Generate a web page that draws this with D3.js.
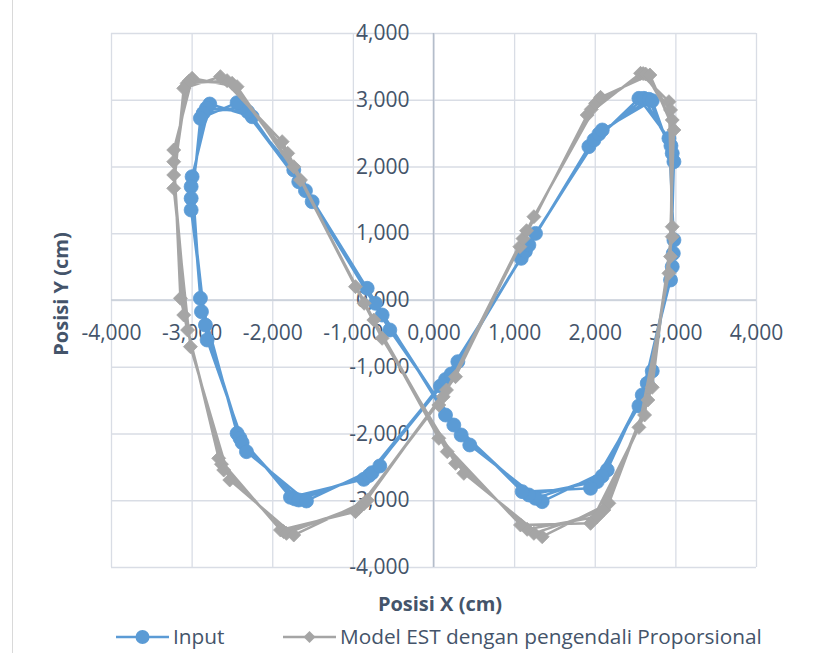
<!DOCTYPE html>
<html>
<head>
<meta charset="utf-8">
<script src="https://cdn.jsdelivr.net/npm/d3@7"></script>
<style>
  body { margin: 0; background: #fff; }
  text { font-family: "Open Sans", sans-serif; fill: #44546a; }
</style>
</head>
<body>
<svg id="chart" width="816" height="653"></svg>
<script>
// Tick values (labels use a decimal comma, e.g. 4,000)
const xTicks = [-4, -3, -2, -1, 0, 1, 2, 3, 4];
const yTicks = [-4, -3, -2, -1, 0, 1, 2, 3, 4];

// Input series, four laps round the figure eight
const inputX = [
  0.087, 1.088, 1.927, 2.548, 2.920, 2.982, 2.713, 2.155, 1.348, 0.450, -0.542, -1.505, -2.249, -2.775, -2.994, -2.891, -2.436, -1.774, -0.865,
  0.150, 1.140, 1.990, 2.610, 2.945, 2.974, 2.651, 2.093, 1.265, 0.343, -0.637, -1.588, -2.304, -2.816, -3.006, -2.878, -2.400, -1.720, -0.800,
  0.219, 1.183, 2.051, 2.672, 2.961, 2.961, 2.589, 2.031, 1.183, 0.252, -0.720, -1.671, -2.374, -2.857, -3.006, -2.829, -2.374, -1.671, -0.761,
  0.302, 1.265, 2.093, 2.713, 2.982, 2.940, 2.548, 1.948, 1.100, 0.149, -0.823, -1.733, -2.436, -2.891, -3.006, -2.808, -2.320, -1.576, -0.666
];
const inputY = [
  -1.288, 0.624, 2.297, 3.021, 2.422, 0.899, -1.064, -2.547, -3.021, -2.172, -0.449, 1.473, 2.746, 2.936, 1.847, 0.025, -1.998, -2.956, -2.687,
  -1.190, 0.730, 2.397, 3.021, 2.310, 0.699, -1.248, -2.637, -2.971, -2.022, -0.225, 1.638, 2.821, 2.872, 1.698, -0.175, -2.070, -2.980, -2.630,
  -1.109, 0.824, 2.487, 3.007, 2.197, 0.499, -1.423, -2.721, -2.921, -1.873, -0.050, 1.772, 2.896, 2.797, 1.523, -0.375, -2.137, -2.996, -2.587,
  -0.924, 0.998, 2.547, 2.986, 2.072, 0.300, -1.588, -2.821, -2.871, -1.723, 0.175, 1.948, 2.956, 2.722, 1.348, -0.599, -2.272, -3.011, -2.487
];

// Model EST dengan pengendali Proporsional
const modelX = [
  0.066, 1.071, 1.906, 2.568, 2.920, 2.961, 2.713, 2.175, 1.348, 0.376, -0.637, -1.650, -2.436, -2.994, -3.222, -3.139, -2.664, -1.898, -0.968,
  0.120, 1.110, 1.957, 2.600, 2.940, 2.961, 2.659, 2.113, 1.245, 0.273, -0.740, -1.733, -2.498, -3.030, -3.222, -3.098, -2.630, -1.860, -0.920,
  0.161, 1.154, 2.010, 2.630, 2.961, 2.940, 2.618, 2.031, 1.162, 0.170, -0.860, -1.808, -2.560, -3.056, -3.222, -3.050, -2.602, -1.824, -0.865,
  0.273, 1.245, 2.072, 2.684, 2.982, 2.920, 2.548, 1.948, 1.079, 0.066, -0.968, -1.877, -2.643, -3.098, -3.222, -3.015, -2.527, -1.733, -0.820
];
const modelY = [
  -1.573, 0.799, 2.771, 3.396, 2.971, 1.098, -1.308, -3.046, -3.546, -2.597, -0.574, 1.798, 3.196, 3.321, 2.247, 0.025, -2.372, -3.446, -3.171,
  -1.450, 0.920, 2.856, 3.392, 2.847, 0.949, -1.498, -3.146, -3.496, -2.447, -0.300, 1.997, 3.246, 3.280, 2.072, -0.225, -2.460, -3.470, -3.110,
  -1.348, 1.038, 2.946, 3.386, 2.697, 0.650, -1.723, -3.246, -3.436, -2.272, -0.050, 2.197, 3.286, 3.246, 1.873, -0.450, -2.547, -3.496, -3.056,
  -1.149, 1.248, 3.036, 3.371, 2.547, 0.400, -1.908, -3.346, -3.371, -2.072, 0.200, 2.372, 3.346, 3.171, 1.673, -0.699, -2.697, -3.521, -3.000
];

const seriesNames = ["Input", "Model EST dengan pengendali Proporsional"];
const seriesColors = ["#5b9bd5", "#a5a5a5"];

let svg = d3.select("#chart");
let plotLeft = 111, plotRight = 756, plotTop = 33, plotBottom = 567;

let x = d3.scaleLinear().domain([-4, 4]).range([plotLeft, plotRight]);
let y = d3.scaleLinear().domain([-4, 4]).range([plotBottom, plotTop]);

// decimal comma and a plain hyphen for the minus sign
let idLocale = d3.formatLocale({decimal: ",", thousands: ".", grouping: [3], currency: ["", ""], minus: "-"});
let fmt = idLocale.format(".3f");

// chart area border
svg.append("rect")
    .attr("x", 12.5).attr("y", -2)
    .attr("width", 900).attr("height", 700)
    .attr("fill", "none").attr("stroke", "#d9d9d9");

// Gridlines
svg.append("g")
    .attr("transform", "translate(0," + plotBottom + ")")
    .call(d3.axisBottom(x).tickValues(xTicks).tickSize(-(plotBottom - plotTop)).tickFormat(""))
    .call(g => g.select(".domain").remove())
    .call(g => g.selectAll("line").attr("stroke", "#d9dde5").attr("stroke-width", 1.3));
svg.append("g")
    .attr("transform", "translate(" + plotLeft + ",0)")
    .call(d3.axisLeft(y).tickValues(yTicks).tickSize(-(plotRight - plotLeft)).tickFormat(""))
    .call(g => g.select(".domain").remove())
    .call(g => g.selectAll("line").attr("stroke", "#d9dde5").attr("stroke-width", 1.3));

// Axis lines through zero
svg.append("line")
    .attr("x1", x(0)).attr("x2", x(0)).attr("y1", plotTop).attr("y2", plotBottom)
    .attr("stroke", "#b4bdca").attr("stroke-width", 1.5);
svg.append("line")
    .attr("x1", plotLeft).attr("x2", plotRight).attr("y1", y(0)).attr("y2", y(0))
    .attr("stroke", "#c9cfd9").attr("stroke-width", 1.3);

// Tick labels
svg.append("g")
    .attr("transform", "translate(0," + y(0) + ")")
    .call(d3.axisBottom(x).tickValues(xTicks).tickSize(0).tickPadding(25).tickFormat(fmt))
    .call(g => g.select(".domain").remove())
    .call(g => g.selectAll("text").attr("font-size", 21).attr("font-family", "Open Sans, sans-serif").attr("fill", "#44546a"));
svg.append("g")
    .attr("transform", "translate(" + x(0) + ",0)")
    .call(d3.axisLeft(y).tickValues(yTicks).tickSize(0).tickPadding(24).tickFormat(fmt))
    .call(g => g.select(".domain").remove())
    .call(g => g.selectAll("text").attr("font-size", 21).attr("font-family", "Open Sans, sans-serif").attr("fill", "#44546a"));

// Series
let inputData = inputX.map((v, i) => [v, inputY[i]]);
let modelData = modelX.map((v, i) => [v, modelY[i]]);
let line = d3.line().x(d => x(d[0])).y(d => y(d[1]));

svg.append("path").datum(inputData)
    .attr("d", line).attr("fill", "none")
    .attr("stroke", seriesColors[0]).attr("stroke-width", 2.5).attr("stroke-linejoin", "round");
svg.append("g").selectAll("circle").data(inputData).join("circle")
    .attr("cx", d => x(d[0])).attr("cy", d => y(d[1])).attr("r", 7)
    .attr("fill", seriesColors[0]).attr("stroke", seriesColors[0]).attr("stroke-width", 0.8);

let diamond = "M0,-7L7,0L0,7L-7,0Z";
svg.append("path").datum(modelData)
    .attr("d", line).attr("fill", "none")
    .attr("stroke", seriesColors[1]).attr("stroke-width", 2.5).attr("stroke-linejoin", "round");
svg.append("g").selectAll("path").data(modelData).join("path")
    .attr("d", diamond)
    .attr("transform", d => "translate(" + x(d[0]) + "," + y(d[1]) + ")")
    .attr("fill", seriesColors[1]).attr("stroke", seriesColors[1]).attr("stroke-width", 0.8);

// Axis titles
svg.append("text")
    .attr("x", 440).attr("y", 611)
    .attr("text-anchor", "middle").attr("font-size", 20).attr("font-weight", "bold")
    .text("Posisi X (cm)");
svg.append("text")
    .attr("transform", "translate(68,294) rotate(-90)")
    .attr("text-anchor", "middle").attr("font-size", 20).attr("font-weight", "bold")
    .text("Posisi Y (cm)");

// Legend
let legendX = [116, 283];
seriesNames.forEach((name, i) => {
    let g = svg.append("g").attr("transform", "translate(" + legendX[i] + ",637)");
    g.append("line").attr("x1", 0).attr("x2", 53).attr("y1", 0).attr("y2", 0)
        .attr("stroke", seriesColors[i]).attr("stroke-width", 2.5);
    if (i == 0) {
        g.append("circle").attr("cx", 26.5).attr("cy", 0).attr("r", 7).attr("fill", seriesColors[i]);
    } else {
        g.append("path").attr("d", "M0,-6L6,0L0,6L-6,0Z").attr("transform", "translate(26.5,0)").attr("fill", seriesColors[i]);
    }
    g.append("text").attr("x", 57).attr("y", 0).attr("dy", "0.35em")
        .attr("font-size", 20.8).text(name);
});
</script>
</body>
</html>
